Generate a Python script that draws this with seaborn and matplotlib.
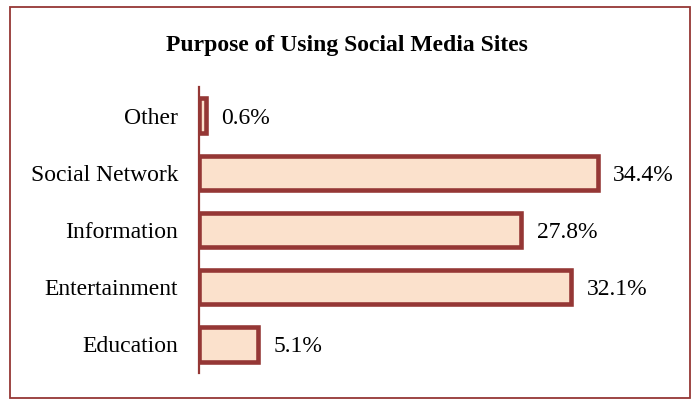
import matplotlib
matplotlib.use("Agg")
import matplotlib.pyplot as plt
import matplotlib.patches as mpatches
import seaborn as sns
import pandas as pd

# ==============================================================================
# DATA
# ==============================================================================
purposes = ["Other", "Social Network", "Information", "Entertainment", "Education"]
shares = [0.6, 34.4, 27.8, 32.1, 5.1]
share_labels = ["0.6%", "34.4%", "27.8%", "32.1%", "5.1%"]

EDGE = "#953735"
FILL = "#FBE1CC"

sns.set_style("white")
plt.rcParams["font.family"] = ["Liberation Serif", "DejaVu Serif"]

df = pd.DataFrame({"purpose": purposes, "share": shares})

fig = plt.figure(figsize=(6.94, 4.03), dpi=100)
ax = fig.add_axes([199 / 694, 1 - 373 / 403, 464 / 694, 286 / 403])

sns.barplot(data=df, x="share", y="purpose", order=purposes, orient="h",
            color=FILL, edgecolor=EDGE, linewidth=3.3, width=0.6,
            saturation=1, ax=ax)

for i, (v, lab) in enumerate(zip(shares, share_labels)):
    ax.text(v + 1.3, i, lab, va="center_baseline", ha="left", fontsize=17,
            color="black")

ax.set_xlim(0, 40)
ax.set_ylim(4.5, -0.5)
ax.set_xlabel("")
ax.set_ylabel("")
ax.set_xticks([])
ax.tick_params(axis="y", length=0, labelsize=17, pad=15, colors="black")
for s in ["top", "right", "bottom"]:
    ax.spines[s].set_visible(False)
ax.spines["left"].set_color(EDGE)
ax.spines["left"].set_linewidth(1.6)

fig.text(0.5, 1 - 45 / 403, "Purpose of Using Social Media Sites",
         ha="center", va="center", fontsize=17, fontweight="bold", color="black")

border = mpatches.Rectangle((10 / 694, 1 - 398 / 403), 680 / 694, 391 / 403,
                            transform=fig.transFigure, fill=False,
                            edgecolor=EDGE, linewidth=1.3)
fig.patches.append(border)

fig.savefig("out.png", dpi=100)
